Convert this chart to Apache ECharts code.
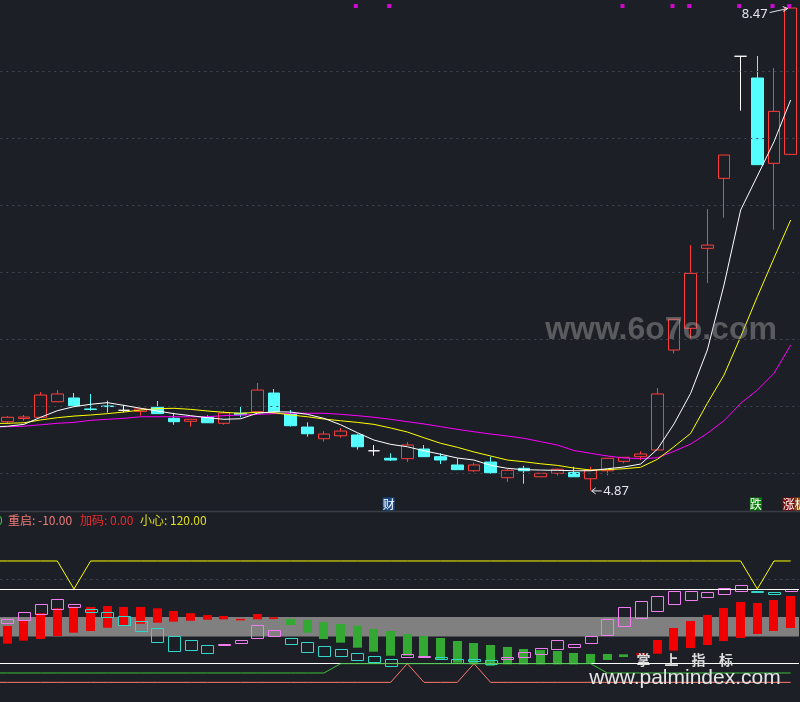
<!DOCTYPE html>
<html><head><meta charset="utf-8">
<script src="https://cdn.jsdelivr.net/npm/echarts@6/dist/echarts.min.js"></script>
<style>html,body{margin:0;padding:0;background:#1c1f26;overflow:hidden}#c{width:800px;height:702px}</style>
</head><body><div id="c"></div>
<script>
// ---------- price candles ----------
const opens  = [5.383,5.407,5.416,5.532,5.560,5.478,5.500,5.468,5.460,5.490,5.408,5.386,5.416,5.371,5.446,5.457,5.597,5.440,5.343,5.256,5.278,5.284,5.166,5.110,5.107,5.179,5.122,5.060,5.017,5.082,4.965,5.035,4.972,4.998,5.004,4.957,5.017,5.087,5.122,5.172,5.918,6.080,6.677,7.199,8.110,7.948,7.311,7.378];
const closes = [5.416,5.418,5.582,5.590,5.502,5.474,5.496,5.468,5.478,5.443,5.383,5.401,5.375,5.448,5.435,5.619,5.457,5.353,5.293,5.291,5.313,5.196,5.166,5.097,5.209,5.122,5.097,5.025,5.060,5.002,5.020,5.017,4.998,5.028,4.972,5.022,5.110,5.117,5.142,5.590,6.147,6.490,6.701,7.373,8.110,7.301,7.699,8.470];
const lows   = [5.366,5.390,5.416,5.532,5.502,5.465,5.450,5.453,5.428,5.443,5.360,5.346,5.375,5.360,5.416,5.457,5.446,5.346,5.271,5.234,5.263,5.174,5.129,5.090,5.082,5.122,5.067,5.025,5.007,4.995,4.933,4.920,4.972,4.980,4.972,4.870,4.983,5.072,5.097,5.172,5.893,6.005,6.418,6.905,7.704,7.301,6.816,7.378];
const highs  = [5.425,5.433,5.604,5.619,5.597,5.590,5.540,5.507,5.487,5.537,5.450,5.401,5.431,5.463,5.493,5.672,5.627,5.470,5.378,5.313,5.336,5.293,5.209,5.147,5.231,5.209,5.147,5.110,5.077,5.122,5.030,5.054,4.998,5.032,5.047,5.047,5.110,5.117,5.162,5.634,6.147,6.701,6.970,7.373,8.110,8.112,8.022,8.470];
// moving averages (white / yellow / magenta)
const maWhite   = [5.349,5.363,5.416,5.465,5.495,5.513,5.525,5.505,5.483,5.463,5.443,5.428,5.413,5.401,5.405,5.446,5.457,5.455,5.438,5.408,5.360,5.301,5.246,5.214,5.196,5.166,5.140,5.112,5.097,5.057,5.035,5.025,5.022,5.020,5.017,5.017,5.032,5.045,5.067,5.177,5.366,5.595,5.918,6.403,6.963,7.216,7.472,7.784];
const maYellow  = [5.371,5.375,5.396,5.413,5.425,5.433,5.443,5.455,5.470,5.480,5.483,5.475,5.463,5.453,5.446,5.453,5.450,5.433,5.420,5.403,5.390,5.378,5.363,5.336,5.306,5.263,5.222,5.192,5.157,5.127,5.097,5.084,5.069,5.057,5.037,5.022,5.025,5.032,5.043,5.102,5.196,5.296,5.520,5.731,6.017,6.316,6.604,6.888];
const maMagenta = [5.346,5.349,5.360,5.371,5.378,5.393,5.401,5.408,5.420,5.420,5.420,5.420,5.420,5.428,5.433,5.438,5.443,5.446,5.446,5.446,5.438,5.428,5.416,5.401,5.383,5.366,5.346,5.326,5.308,5.291,5.276,5.259,5.234,5.209,5.168,5.147,5.127,5.112,5.107,5.114,5.162,5.216,5.296,5.390,5.520,5.619,5.744,5.955];
const maLeadEdge = [5.343, 5.369, 5.343]; // white, yellow, magenta at the left edge
const priceGrid = [5.0, 5.5, 6.0, 6.5, 7.0, 7.5, 8.0];
const signalIdx = [21, 23, 37, 40, 41, 44, 46, 47];
const signalLevel = 8.485;
const highIdx = 47, highVal = 8.47, lowIdx = 35, lowVal = 4.87;

// ---------- indicator ----------
const levelRestart = -10.00, levelAdd = 0.00, levelCare = 120.00;
const whiteHi = 90, whiteLo = 10, dotLevel = 100, bandLo = 39, bandHi = 60;
const barKind = 'RRRRRRRRRRRRRRRRRGGGGGGGGGGGGGGGGGGGGGRRRRRRRRRR';
const barHi = [50.4,55.7,64.0,69.3,71.0,70.7,71.8,70.7,70.7,69.3,66.4,64.0,62.1,61.1,58.0,63.2,59.7,57.9,56.8,54.6,52.5,50.7,47.1,45.0,41.8,39.6,37.5,34.3,32.1,30.0,27.9,25.7,24.6,23.6,21.4,20.4,20.4,20.0,21.1,35.4,48.2,55.7,62.1,69.6,76.1,75.0,78.2,82.5];
const barLo = [31.4,34.6,36.4,39.6,43.2,45.0,48.5,50.7,52.8,53.9,55.0,56.0,57.1,57.5,57.0,57.5,57.9,51.4,43.2,36.4,32.5,27.1,22.8,18.5,18.5,16.4,13.9,11.0,9.3,7.8,9.3,9.3,9.3,9.3,9.3,10.7,13.9,17.1,19.6,20.7,23.9,26.8,30.0,34.3,37.5,41.8,45.0,48.2];
const boxKind = 'PPPPPCCCCCCCCPPPPCCCCCCCPPCCCCPPPPPPPPPPPPPPPCCP';
const boxHi = [57.5,65.0,73.6,79.0,73.6,68.3,65.0,60.8,55.4,47.9,39.6,35.0,29.7,31.6,35.0,51.4,46.1,37.2,33.2,28.9,25.7,21.1,17.9,15.0,20.4,18.0,17.1,15.0,15.0,13.9,16.8,22.2,26.5,35.0,30.8,39.3,57.5,70.4,76.8,82.2,87.5,87.5,86.5,90.8,94.0,87.5,86.5,89.7];
const boxLo = [53.3,56.5,62.9,68.3,70.4,65.0,59.7,50.7,44.3,32.5,23.9,23.9,21.1,30.6,31.8,37.8,40.0,30.8,22.2,18.5,18.5,13.2,11.0,7.8,16.8,16.4,15.4,10.4,13.2,9.6,14.3,16.4,20.0,25.4,27.1,31.8,40.4,50.0,58.2,65.7,73.6,77.5,80.7,83.9,87.1,86.0,83.9,87.1];
const yellowLine = [120,120,120,120,90,120,120,120,120,120,120,120,120,120,120,120,120,120,120,120,120,120,120,120,120,120,120,120,120,120,120,120,120,120,120,120,120,120,120,120,120,120,120,120,120,90,120,120];
const greenLine  = [0,0,0,0,0,0,0,0,0,0,0,0,0,0,0,0,0,0,0,0,10,10,10,10,10,10,10,10,10,10,10,10,10,10,10,10,0,0,0,0,0,0,0,0,0,0,0,0];
const salmonLine = [-10,-10,-10,-10,-10,-10,-10,-10,-10,-10,-10,-10,-10,-10,-10,-10,-10,-10,-10,-10,-10,-10,-10,-10,10,-10,-10,-10,10,-10,-10,-10,-10,-10,-10,-10,-10,-10,-10,-10,-10,-10,-10,-10,-10,-10,-10,-10];

// ---------- build ----------
const BG = '#1c1f26';
const N = opens.length;
const cats = ['']; for (let i = 0; i < N; i++) cats.push(String(i + 1));
const white = {color:'#ffffff',color0:'#ffffff',borderColor:'#ffffff',borderColor0:'#ffffff',borderColorDoji:'#ffffff'};
const candleData = [['-','-','-','-']].concat(opens.map((o, i) => {
  const v = [o, closes[i], lows[i], highs[i]];
  return o === closes[i] ? {value: v, itemStyle: white} : v;
}));
const lead = (edge, arr) => [edge].concat(arr);
const lineData = arr => [arr[0]].concat(arr);

function rectData(kindStr, k, lo, hi) {
  const out = [];
  for (let i = 0; i < N; i++) if (kindStr[i] === k) out.push([i + 1, lo[i], hi[i]]);
  return out;
}
function floatRect(w, filled, color) {
  return function (params, api) {
    const x = api.value(0), lo = api.value(1), hi = api.value(2);
    const a = api.coord([x, hi]), b = api.coord([x, lo]);
    const h = b[1] - a[1];
    if (filled) {
      return {type:'rect', shape:{x: Math.round(a[0] - w / 2), y: a[1], width: w, height: Math.max(h, 1.5)}, style:{fill: color}};
    }
    return {type:'rect', shape:{x: Math.round(a[0] - w / 2) + 0.5, y: Math.round(a[1]) + 0.5, width: w, height: Math.max(Math.round(h), 1)},
            style:{fill: 'none', stroke: color, lineWidth: 1}};
  };
}
const GL = -17.7, GR = 1;
const chart = echarts.init(document.getElementById('c'), null, {renderer: 'canvas'});
const dotted = {color: '#434752', type: [2, 4], width: 1};
const gridCommon = {left: GL, right: GR, containLabel: false, outerBoundsMode: 'none'};
const option = {
  backgroundColor: BG,
  animation: false,
  grid: [
    Object.assign({top: 0, height: 510}, gridCommon),
    Object.assign({top: 514.33, height: 186.67}, gridCommon)
  ],
  xAxis: [
    {type: 'category', data: cats, gridIndex: 0, show: false, boundaryGap: true},
    {type: 'category', data: cats, gridIndex: 1, show: false, boundaryGap: true}
  ],
  yAxis: [
    {type: 'value', gridIndex: 0, min: 4.724, max: 8.530, show: false},
    {type: 'value', gridIndex: 1, min: -30, max: 170, show: false}
  ],
  series: [
    {type: 'candlestick', xAxisIndex: 0, yAxisIndex: 0, data: candleData, barWidth: 12, z: 2,
     itemStyle: {color: BG, borderColor: '#ff3c3c', color0: '#54ffff', borderColor0: '#54ffff', borderColorDoji: '#ffffff', borderWidth: 1},
     markLine: {silent: true, symbol: 'none', label: {show: false}, lineStyle: dotted, data: priceGrid.map(v => ({yAxis: v}))}},
    {type: 'line', xAxisIndex: 0, yAxisIndex: 0, data: lead(maLeadEdge[2], maMagenta), showSymbol: false, lineStyle: {color: '#ff00ff', width: 1}, z: 3},
    {type: 'line', xAxisIndex: 0, yAxisIndex: 0, data: lead(maLeadEdge[1], maYellow), showSymbol: false, lineStyle: {color: '#ffff00', width: 1}, z: 4},
    {type: 'line', xAxisIndex: 0, yAxisIndex: 0, data: lead(maLeadEdge[0], maWhite), showSymbol: false, lineStyle: {color: '#ffffff', width: 1}, z: 5},
    {type: 'scatter', xAxisIndex: 0, yAxisIndex: 0, data: signalIdx.map(i => [i + 1, signalLevel]), symbol: 'rect', symbolSize: 4, symbolOffset: [-1.5, 0], itemStyle: {color: '#ff00ff'}, z: 6},
    // indicator
    {type: 'line', xAxisIndex: 1, yAxisIndex: 1, data: [], z: 1,
     markArea: {silent: true, itemStyle: {color: '#808080'}, data: [[{yAxis: bandLo}, {yAxis: bandHi}]]},
     markLine: {silent: true, symbol: 'none', label: {show: false},
       data: [{yAxis: whiteHi, lineStyle: {color: '#ffffff', width: 1, type: 'solid'}},
              {yAxis: whiteLo, lineStyle: {color: '#ffffff', width: 1, type: 'solid'}},
              {yAxis: dotLevel, lineStyle: dotted}]}},
    {type: 'custom', xAxisIndex: 1, yAxisIndex: 1, renderItem: floatRect(9, true, '#f00000'), encode: {x: 0, y: [1, 2]}, data: rectData(barKind, 'R', barLo, barHi), z: 2},
    {type: 'custom', xAxisIndex: 1, yAxisIndex: 1, renderItem: floatRect(9, true, '#33a833'), encode: {x: 0, y: [1, 2]}, data: rectData(barKind, 'G', barLo, barHi), z: 2},
    {type: 'custom', xAxisIndex: 1, yAxisIndex: 1, renderItem: floatRect(12, false, '#f07cf0'), encode: {x: 0, y: [1, 2]}, data: rectData(boxKind, 'P', boxLo, boxHi), z: 3},
    {type: 'custom', xAxisIndex: 1, yAxisIndex: 1, renderItem: floatRect(12, false, '#30d8cc'), encode: {x: 0, y: [1, 2]}, data: rectData(boxKind, 'C', boxLo, boxHi), z: 3},
    {type: 'line', xAxisIndex: 1, yAxisIndex: 1, data: lineData(salmonLine), showSymbol: false, lineStyle: {color: '#ff7a6e', width: 1}, z: 4},
    {type: 'line', xAxisIndex: 1, yAxisIndex: 1, data: lineData(greenLine), showSymbol: false, lineStyle: {color: '#3cbf3c', width: 1}, z: 5},
    {type: 'line', xAxisIndex: 1, yAxisIndex: 1, data: lineData(yellowLine), showSymbol: false, lineStyle: {color: '#ffff00', width: 1}, z: 6}
  ]
};
chart.setOption(option);

// ---------- annotations ----------
const px = (i, v) => chart.convertToPixel({gridIndex: 0}, [i + 1, v]);
const hp = px(highIdx, highVal), lp = px(lowIdx, lowVal);
const cjk = "'Noto Sans CJK SC', sans-serif";
function txt(x, y, s, fill, font, align, extra) {
  return {type: 'text', z: 100, style: Object.assign({x, y, text: s, fill, font, align: align || 'left', textAlign: align || 'left', verticalAlign: 'middle', textVerticalAlign: 'middle'}, extra || {})};
}
function tag(i, dx, s, bg) {
  const p = px(i, lowVal);
  return txt(p[0] + dx, 504, s, '#ffffff', '12px ' + cjk, 'center', {backgroundColor: bg, padding: [1, 0, 0, 0]});
}
const g = [
  {type: 'line', z: 50, shape: {x1: 0, y1: 511.5, x2: 800, y2: 511.5}, style: {stroke: '#3a3d46', lineWidth: 1.5}},
  txt(661, 330, 'www.6o7o.com', 'rgba(165,165,165,0.45)', "bold 32px 'Liberation Sans', sans-serif", 'center', {}),
  // high / low marks
  txt(hp[0] - 23, hp[1] + 6.5, highVal.toFixed(2), '#e4e4f0', "13px 'Noto Sans', sans-serif", 'right'),
  {type: 'line', z: 100, shape: {x1: hp[0] - 21, y1: hp[1] + 4.5, x2: hp[0] - 3, y2: hp[1] + 0.5}, style: {stroke: '#e4e4f0', lineWidth: 1}},
  {type: 'polyline', z: 100, shape: {points: [[hp[0] - 8, hp[1] - 1.5], [hp[0] - 3, hp[1] + 0.5], [hp[0] - 7.5, hp[1] + 3.5]]}, style: {stroke: '#e4e4f0', fill: 'none', lineWidth: 1}},
  txt(lp[0] + 12.5, lp[1] + 0.5, lowVal.toFixed(2), '#e4e4f0', "13px 'Noto Sans', sans-serif", 'left'),
  {type: 'line', z: 100, shape: {x1: lp[0] + 1, y1: lp[1] + 0.5, x2: lp[0] + 11, y2: lp[1] + 0.5}, style: {stroke: '#e4e4f0', lineWidth: 1}},
  {type: 'polyline', z: 100, shape: {points: [[lp[0] + 5, lp[1] - 2.5], [lp[0] + 1, lp[1] + 0.5], [lp[0] + 5, lp[1] + 3.5]]}, style: {stroke: '#e4e4f0', fill: 'none', lineWidth: 1}},
  tag(23, -2, '财', '#1b4a86'),
  tag(45, -1.5, '跌', '#0b7d0b'),
  tag(47, -2, '涨', '#840c0c'),
  tag(47, 10, '板', '#8a4a12'),
  // indicator header
  txt(-4, 520, '0', '#40c040', '12px ' + cjk),
  txt(8, 520, '重启: ' + levelRestart.toFixed(2), '#f07c78', '12px ' + cjk),
  txt(80, 520, '加码: ' + levelAdd.toFixed(2), '#ee2a2a', '12px ' + cjk),
  txt(140, 520, '小心: ' + levelCare.toFixed(2), '#dede1e', '12px ' + cjk),
  // bottom watermark
  txt(643.5, 660, '掌', '#dcdcdc', 'bold 14px ' + cjk, 'center'),
  txt(671.5, 660, '上', '#dcdcdc', 'bold 14px ' + cjk, 'center'),
  txt(698.5, 660, '指', '#dcdcdc', 'bold 14px ' + cjk, 'center'),
  txt(726, 660, '标', '#dcdcdc', 'bold 14px ' + cjk, 'center'),
  txt(685, 678, 'www.palmindex.com', '#e6e6e6', "21px 'Liberation Sans', sans-serif", 'center')
];
chart.setOption({graphic: {elements: g}});
</script></body></html>
